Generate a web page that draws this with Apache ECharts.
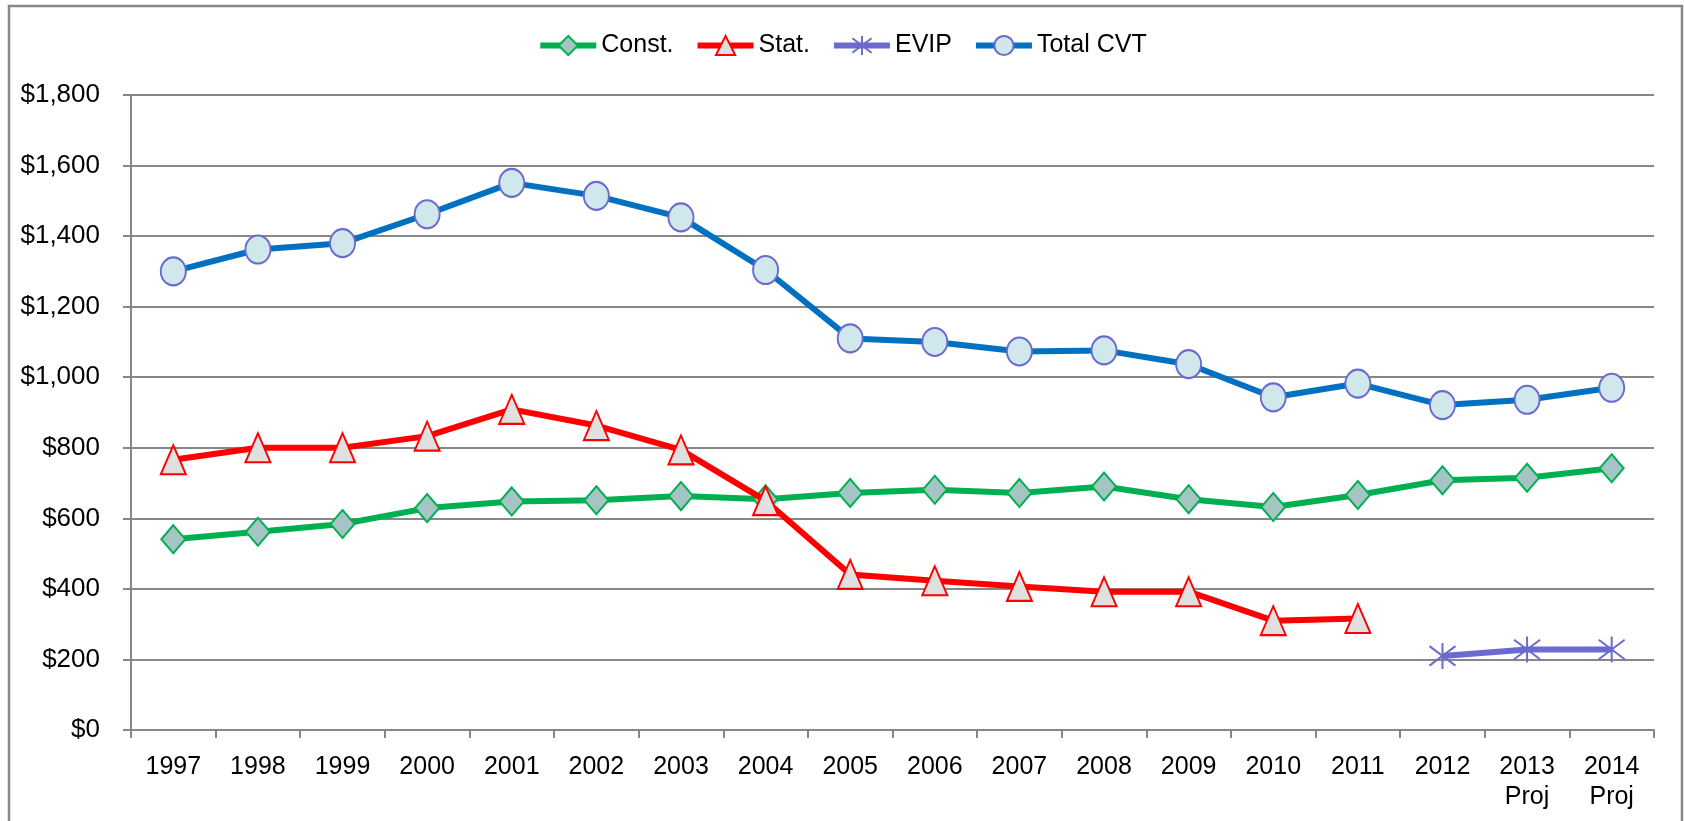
<!DOCTYPE html>
<html>
<head>
<meta charset="utf-8">
<script src="https://cdn.jsdelivr.net/npm/echarts@6/dist/echarts.min.js"></script>
<style>
  html, body { margin: 0; padding: 0; background: #fff; }
  #chart { width: 1684px; height: 821px; }
</style>
</head>
<body>
<div id="chart"></div>
<script>
// data
const years = ['1997', '1998', '1999', '2000', '2001', '2002', '2003', '2004', '2005',
  '2006', '2007', '2008', '2009', '2010', '2011', '2012', '2013\nProj', '2014\nProj']
const constVals = [541, 562, 584, 629, 648, 651, 663, 654, 672, 681, 672, 690, 654, 632, 666, 708, 715, 742]
const statVals = [766, 800, 800, 833, 909, 863, 794, 650, 441, 423, 407, 392, 392, 310, 316, null, null, null]
const evipVals = [null, null, null, null, null, null, null, null, null, null, null, null, null, null, null, 210, 228, 228]
const totalVals = [1300, 1362, 1380, 1462, 1551, 1514, 1453, 1304, 1110, 1100, 1073, 1076, 1037, 943, 982, 921, 936, 970]

const font = '"Liberation Sans", Arial, sans-serif'
const gridGrey = '#878787'
const asterisk = 'path://M12,0L12,24M1,3L23,21M1,21L23,3'

const chart = echarts.init(document.getElementById('chart'))

chart.setOption({
  animation: false,
  textStyle: { fontFamily: font },
  graphic: [{
    type: 'rect',
    shape: { x: 9, y: 6, width: 1673, height: 840 },
    style: { fill: 'none', stroke: gridGrey, lineWidth: 2.5 },
    silent: true
  }],
  legend: {
    top: 28,
    left: 'center',
    itemWidth: 56,
    itemHeight: 24,
    itemGap: 21,
    lineStyle: { width: 6 },
    textStyle: { fontSize: 25, color: '#000', fontFamily: font },
    data: ['Const.', 'Stat.', 'EVIP', 'Total CVT']
  },
  grid: { left: 131, right: 30, top: 95, bottom: 91, containLabel: false },
  xAxis: {
    type: 'category',
    data: years,
    boundaryGap: true,
    axisLine: { lineStyle: { color: gridGrey, width: 2 } },
    axisTick: { show: true, length: 8, lineStyle: { color: gridGrey, width: 2 } },
    axisLabel: { color: '#000', fontSize: 25, lineHeight: 30, margin: 22, interval: 0 }
  },
  yAxis: {
    type: 'value',
    min: 0,
    max: 1800,
    interval: 200,
    axisLine: { show: true, lineStyle: { color: gridGrey, width: 2 } },
    axisTick: { show: true, length: 8, lineStyle: { color: gridGrey, width: 2 } },
    splitLine: { lineStyle: { color: gridGrey, width: 2 } },
    axisLabel: {
      color: '#000',
      fontSize: 26,
      margin: 31,
      formatter: v => '$' + v.toLocaleString('en-US')
    }
  },
  series: [
    {
      name: 'Const.',
      type: 'line',
      data: constVals,
      symbol: 'diamond',
      symbolSize: [24, 28],
      lineStyle: { color: '#00B050', width: 6 },
      itemStyle: { color: '#A5C4C4', borderColor: '#00B050', borderWidth: 2 },
      z: 3
    },
    {
      name: 'Stat.',
      type: 'line',
      data: statVals,
      symbol: 'triangle',
      symbolSize: [25, 29],
      lineStyle: { color: '#FF0000', width: 6 },
      itemStyle: { color: '#E0E0E0', borderColor: '#FF0000', borderWidth: 2 },
      z: 4
    },
    {
      name: 'EVIP',
      type: 'line',
      data: evipVals,
      symbol: asterisk,
      symbolSize: [26, 26],
      lineStyle: { color: '#6B6BCF', width: 6 },
      itemStyle: { color: 'none', borderColor: '#6B6BCF', borderWidth: 2 },
      z: 3
    },
    {
      name: 'Total CVT',
      type: 'line',
      data: totalVals,
      symbol: 'circle',
      symbolSize: [25, 28],
      lineStyle: { color: '#0070C0', width: 6 },
      itemStyle: { color: '#D0E8EC', borderColor: '#6B6BCF', borderWidth: 2 },
      z: 3
    }
  ]
})
</script>
</body>
</html>
